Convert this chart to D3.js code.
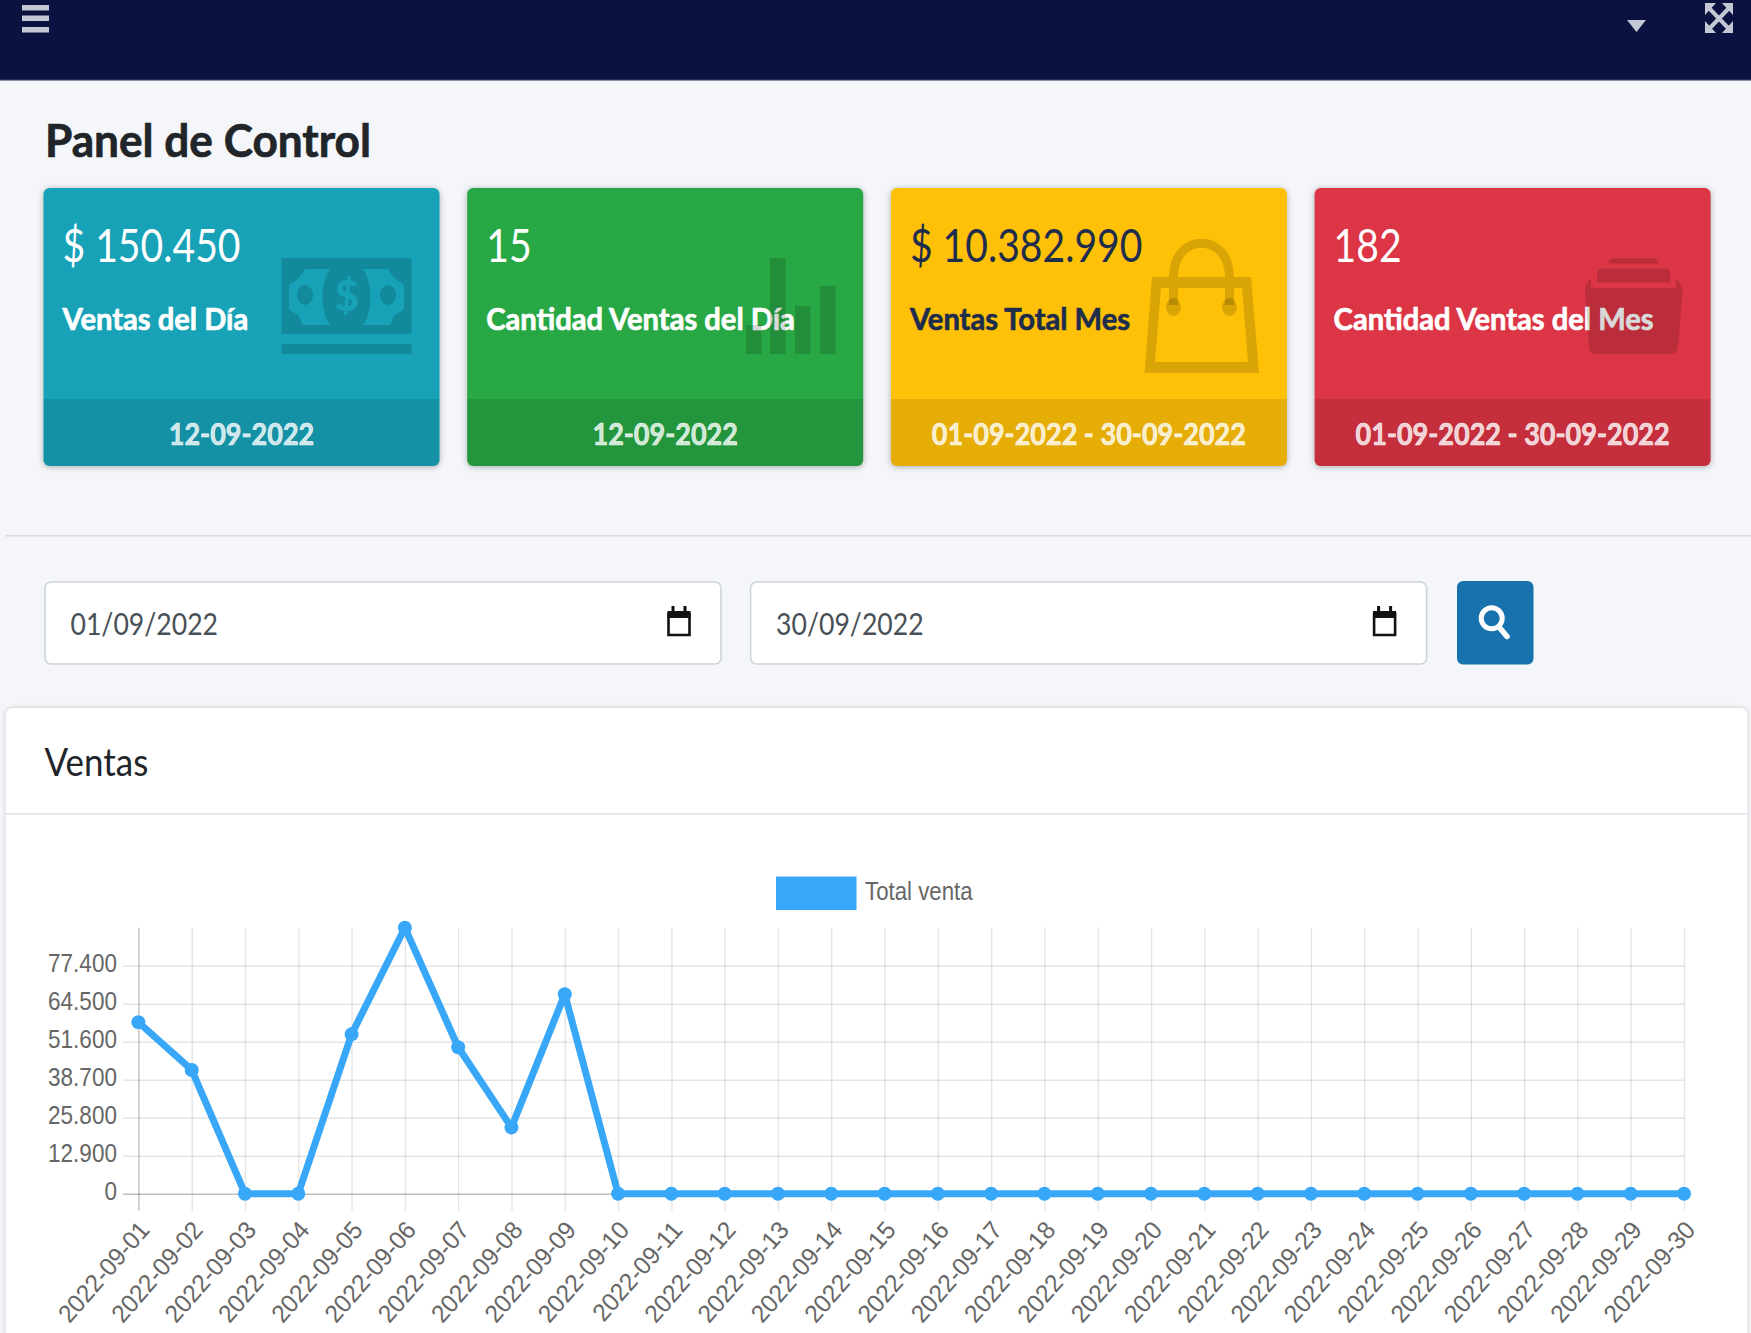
<!DOCTYPE html>
<html>
<head>
<meta charset="utf-8">
<script src="https://cdn.jsdelivr.net/npm/d3@7"></script>
<style>
  html, body { margin: 0; padding: 0; background: #f4f6f9; overflow: hidden; }
  svg { display: block; }
  .ui { font-family: Lato, "Noto Sans", sans-serif; }
  .chart text { font-family: "Liberation Sans", Arial, sans-serif; fill: #666; }
</style>
</head>
<body>
<div id="page"></div>
<script>
// Chart values
const FECHAS = [
  "2022-09-01","2022-09-02","2022-09-03","2022-09-04","2022-09-05","2022-09-06",
  "2022-09-07","2022-09-08","2022-09-09","2022-09-10","2022-09-11","2022-09-12",
  "2022-09-13","2022-09-14","2022-09-15","2022-09-16","2022-09-17","2022-09-18",
  "2022-09-19","2022-09-20","2022-09-21","2022-09-22","2022-09-23","2022-09-24",
  "2022-09-25","2022-09-26","2022-09-27","2022-09-28","2022-09-29","2022-09-30",
];
const TOTAL_VENTA = [
  58200, 42000, 0, 0, 54100, 90300, 49700, 22500, 67700, 0,
  0, 0, 0, 0, 0, 0, 0, 0, 0, 0,
  0, 0, 0, 0, 0, 0, 0, 0, 0, 0,
];
const Y_TICKS = [0, 12900, 25800, 38700, 51600, 64500, 77400];
const Y_MAX = 90300;
const SERIE = "Total venta";

// Summary cards
const CARD_VALUES = ["$ 150.450", "15", "$ 10.382.990", "182"];
const CARD_LABELS = ["Ventas del Día", "Cantidad Ventas del Día", "Ventas Total Mes", "Cantidad Ventas del Mes"];
const CARD_DATES  = ["12-09-2022", "12-09-2022", "01-09-2022 - 30-09-2022", "01-09-2022 - 30-09-2022"];
const DATE_INPUTS = ["01/09/2022", "30/09/2022"];

const CARD_COLORS = ["#17a2b8", "#28a745", "#ffc107", "#dc3545"];
const CARD_TEXT   = ["#fff", "#fff", "#1f2d4d", "#fff"];
const LINE_COLOR  = "#39a7f8";
const ICON_FILL   = "rgba(0,0,0,.15)";

const W = 1751, H = 1333;
const es = d3.formatLocale({ decimal: ",", thousands: ".", grouping: [3], currency: ["$", ""] });

const svg = d3.select("#page").append("svg")
  .attr("width", W).attr("height", H).attr("viewBox", `0 0 ${W} ${H}`);

// The screenshot is squashed sideways, so text gets narrowed to fit
function squeeze(sel, k) {
  sel.each(function() {
    d3.select(this)
      .attr("textLength", this.getComputedTextLength() * k)
      .attr("lengthAdjust", "spacingAndGlyphs");
  });
  return sel;
}

function label(parent, x, y, str, size, weight, fill, k, anchor = "start") {
  const t = parent.append("text").attr("class", "ui")
    .attr("x", x).attr("y", y)
    .attr("font-size", size).attr("font-weight", weight)
    .attr("fill", fill).attr("text-anchor", anchor)
    .text(str);
  if (weight === 700) t.attr("stroke", fill).attr("stroke-width", 0.7);
  return squeeze(t, k);
}

// ── Top bar ──
svg.append("rect").attr("width", W).attr("height", 80).attr("fill", "#0c1240");
svg.append("rect").attr("y", 79).attr("width", W).attr("height", 1.5).attr("fill", "#2b2f55");
const barIcon = "#c4c7d4";
[5, 15.5, 27].forEach(y => svg.append("rect")
  .attr("x", 22).attr("y", y).attr("width", 27).attr("height", 5.5).attr("fill", barIcon));
svg.append("path").attr("d", "M1627,20H1646L1636.5,32Z").attr("fill", barIcon);
svg.append("path").attr("fill", "none").attr("stroke", barIcon).attr("stroke-width", 4)
  .attr("d", "M1709,8L1729,29M1729,8L1709,29");
svg.append("path").attr("fill", barIcon)
  .attr("d", "M1705,3H1716L1705,15ZM1733,3V15L1722,3ZM1705,33V21L1716,33ZM1733,33H1722L1733,21Z");

// ── Title ──
label(svg, 45, 157, "Panel de Control", 46, 700, "#1f2529", 0.96);

// ── Cards ──
const cardX = i => 43.5 + i * 423.7;
const CARD_W = 396, CARD_TOP = 188, CARD_BOTTOM = 466, FOOT_TOP = 399;

const cards = svg.selectAll("g.card")
  .data(CARD_VALUES)
  .join("g").attr("class", "card")
  .attr("transform", (d, i) => `translate(${cardX(i)},0)`);

svg.append("clipPath").attr("id", "card-clip").append("rect")
  .attr("y", CARD_TOP).attr("width", CARD_W)
  .attr("height", CARD_BOTTOM - CARD_TOP).attr("rx", 6);

cards.each(function(d, i) {
  const g = d3.select(this);
  g.append("rect")
    .attr("y", CARD_TOP).attr("width", CARD_W).attr("height", CARD_BOTTOM - CARD_TOP)
    .attr("rx", 6).attr("fill", CARD_COLORS[i])
    .style("filter", "drop-shadow(0 1px 3px rgba(0,0,0,.3))");
  g.append("rect")
    .attr("y", FOOT_TOP).attr("width", CARD_W).attr("height", CARD_BOTTOM - FOOT_TOP)
    .attr("fill", "rgba(0,0,0,.1)")
    .attr("clip-path", "url(#card-clip)");

  label(g, 19, 262, d, 46, 400, CARD_TEXT[i], 0.85);
  label(g, 19, 329.5, CARD_LABELS[i], 31, 700, CARD_TEXT[i], 0.94);
  label(g, CARD_W / 2, 444.5, CARD_DATES[i], 30, 700, "rgba(255,255,255,.8)", 0.9, "middle");
});

// Background glyphs sit over the text, as in the original
const icons = svg.append("g").attr("fill", ICON_FILL);

// money
const noteColor = CARD_COLORS[0];
icons.append("path").attr("fill-rule", "evenodd").attr("d",
  "M281.5,258H411.5V334H281.5Z " +
  "M305,269H330C320,282 320,312 330,325H303L299,316L289,309V285L299,278Z " +
  "M388,269H363C373,282 373,312 363,325H390L394,316L404,309V285L394,278Z");
icons.append("rect").attr("x", 281.5).attr("y", 344).attr("width", 130).attr("height", 10);
icons.append("ellipse").attr("cx", 305).attr("cy", 295).attr("rx", 8).attr("ry", 10);
icons.append("ellipse").attr("cx", 388).attr("cy", 295).attr("rx", 8).attr("ry", 10);
icons.append("text").attr("x", 347).attr("y", 311).attr("text-anchor", "middle")
  .attr("class", "ui").attr("font-size", 42).attr("font-weight", 900).attr("fill", noteColor).text("$");

// bars
[[746, 325], [770, 258], [795, 306], [820, 286]].forEach(([x, top]) =>
  icons.append("rect").attr("x", x).attr("y", top).attr("width", 15.5).attr("height", 354 - top));

// bag
icons.append("path").attr("fill-rule", "evenodd").attr("d",
  "M1152,277H1251L1259,373H1144.5Z M1161,288L1155,362H1248L1242,288Z");
icons.append("path").attr("fill", "none").attr("stroke", ICON_FILL).attr("stroke-width", 9)
  .attr("d", "M1173.5,277C1173.5,232 1229.5,232 1229.5,277M1173.5,288V305M1229.5,288V305");
icons.append("ellipse").attr("cx", 1173.5).attr("cy", 307).attr("rx", 7.5).attr("ry", 9);
icons.append("ellipse").attr("cx", 1229.5).attr("cy", 307).attr("rx", 7.5).attr("ry", 9);

// box
icons.append("path").attr("d",
  "M1612,258.5H1655Q1658,259 1658,263.5H1609Q1609,259 1612,258.5Z");
icons.append("path").attr("d", "M1601,268.5H1666Q1670,268.5 1670,273V282.5H1597V273Q1597,268.5 1601,268.5Z");
icons.append("path").attr("d",
  "M1591,279V288H1676V279Q1682,283 1682.5,292L1678,347Q1678,354 1670,354H1596Q1589,354 1589,347L1585,292Q1585,283 1591,279Z");

// ── Date filter ──
svg.append("rect").attr("x", 5.5).attr("y", 535).attr("width", W).attr("height", 1.6).attr("fill", "#d6dadf");

DATE_INPUTS.forEach((d, i) => {
  const x = 44.5 + i * 705.6;
  const g = svg.append("g").attr("transform", `translate(${x},0)`);
  g.append("rect").attr("x", 0.5).attr("y", 582).attr("width", 676).attr("height", 82).attr("rx", 6)
    .attr("fill", "#fff").attr("stroke", "#ced4da").attr("stroke-width", 1.6);
  label(g, 26, 635, d, 30, 400, "#495057", 0.887);
  // calendar glyph
  g.append("path").attr("fill", "none").attr("stroke", "#111").attr("stroke-width", 2.6)
    .attr("d", "M624,614H645V635H624Z");
  g.append("path").attr("fill", "#111")
    .attr("d", "M623,611H627V606H630V611H639V606H642V611H646V618H623Z");
});

svg.append("rect").attr("x", 1457).attr("y", 581).attr("width", 76.5).attr("height", 83.5).attr("rx", 6).attr("fill", "#1872ad");
svg.append("circle").attr("cx", 1491.7).attr("cy", 618.3).attr("r", 10.5)
  .attr("fill", "none").attr("stroke", "#fff").attr("stroke-width", 5);
svg.append("path").attr("d", "M1499,627L1507,636.5").attr("stroke", "#fff").attr("stroke-width", 5.5).attr("stroke-linecap", "round");

// ── Chart panel ──
svg.append("rect").attr("x", 5.5).attr("y", 708).attr("width", 1742).attr("height", 700).attr("rx", 7)
  .attr("fill", "#fff").style("filter", "drop-shadow(0 0 2px rgba(0,0,0,.2))");
svg.append("rect").attr("x", 5.5).attr("y", 813).attr("width", 1742).attr("height", 1.6).attr("fill", "#dfe2e5");
label(svg, 44.5, 776, "Ventas", 38, 400, "#212529", 0.92);

const chart = svg.append("g").attr("class", "chart");

const x = d3.scalePoint().domain(FECHAS).range([138.4, 1684]);
const y = d3.scaleLinear().domain([0, Y_MAX]).range([1193.7, 927.7]);
const plotW = x.range()[1] - x.range()[0];

// Horizontal grid + y labels
const yAxis = chart.append("g")
  .attr("transform", `translate(${x.range()[0]},0)`)
  .call(d3.axisLeft(y).tickValues(Y_TICKS).tickFormat(es.format(",d")).tickSize(15.5).tickPadding(6));
yAxis.select(".domain").remove();
yAxis.selectAll("line")
  .attr("x2", plotW).attr("x1", -15.5)
  .attr("stroke", d => d === 0 ? "rgba(0,0,0,.25)" : "rgba(0,0,0,.1)")
  .attr("stroke-width", 1.6);
yAxis.selectAll("text").attr("font-size", 25).attr("font-family", null).attr("dy", "0.24em")
  .call(squeeze, 0.9);

// Vertical grid + rotated date labels
const xAxis = chart.append("g")
  .attr("transform", `translate(0,${y(0)})`)
  .call(d3.axisBottom(x).tickSize(17));
xAxis.select(".domain").remove();
xAxis.selectAll("line")
  .attr("y1", y(Y_MAX) - y(0))
  .attr("stroke", (d, i) => i === 0 ? "rgba(0,0,0,.25)" : "rgba(0,0,0,.1)")
  .attr("stroke-width", 1.4);
xAxis.selectAll("text")
  .attr("font-size", 25).attr("font-family", null)
  .attr("text-anchor", "end").attr("dy", null).attr("y", null)
  .attr("transform", "translate(12,37) rotate(-49)")
  .call(squeeze, 0.97);

// Legend
const legendRow = chart.append("g");
legendRow.append("rect").attr("x", 776).attr("y", 876.5).attr("width", 80.5).attr("height", 33.5).attr("fill", LINE_COLOR);
const legendText = legendRow.append("text").attr("x", 865).attr("y", 900).attr("font-size", 25).text(SERIE);
squeeze(legendText, 0.89);

// Series
const line = d3.line().x((d, i) => x(FECHAS[i])).y(d => y(d));
chart.append("path").datum(TOTAL_VENTA)
  .attr("fill", "none").attr("stroke", LINE_COLOR).attr("stroke-width", 7)
  .attr("stroke-linejoin", "round").attr("d", line);
chart.selectAll("circle").data(TOTAL_VENTA).join("circle")
  .attr("cx", (d, i) => x(FECHAS[i])).attr("cy", d => y(d)).attr("r", 7)
  .attr("fill", LINE_COLOR);
</script>
</body>
</html>
